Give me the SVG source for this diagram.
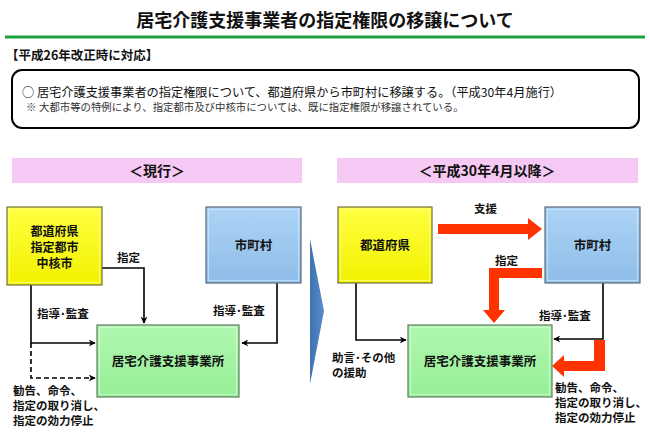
<svg xmlns="http://www.w3.org/2000/svg" width="650" height="434" viewBox="0 0 650 434">
<defs>
<style>
text{font-family:"Noto Sans CJK JP","Noto Sans",sans-serif;fill:#111}
.t{font-size:18px;font-weight:bold}
.b{font-weight:bold}
.lbl{font-size:11.5px;font-weight:bold}
.box{font-size:12.5px;font-weight:bold}
.box3{font-size:12px;font-weight:bold}
.hdr{font-size:14px;font-weight:bold}
.ln{fill:none;stroke:#000;stroke-width:1.6}
.red{fill:#FF3300;stroke:none}
.pink{fill:#F6C8F4}
</style>
<linearGradient id="gy" x1="0" y1="0" x2="0" y2="1"><stop offset="0" stop-color="#FFFF40"/><stop offset="1" stop-color="#F2F200"/></linearGradient>
<linearGradient id="gb" x1="0" y1="0" x2="0" y2="1"><stop offset="0" stop-color="#ACD4F6"/><stop offset="1" stop-color="#8FBDE8"/></linearGradient>
<linearGradient id="gg" x1="0" y1="0" x2="0" y2="1"><stop offset="0" stop-color="#B0F8B0"/><stop offset="1" stop-color="#96EE96"/></linearGradient>
<linearGradient id="gc" x1="0" y1="0" x2="1" y2="0"><stop offset="0" stop-color="#3F72B0"/><stop offset="1" stop-color="#5A8CCB"/></linearGradient>
<marker id="ah" viewBox="0 0 10 10" refX="9" refY="5" markerWidth="7" markerHeight="7" orient="auto" markerUnits="userSpaceOnUse"><path d="M0,0 L10,5 L0,10 L3,5 z" fill="#000"/></marker>
</defs>

<g id="header">
<text class="t" x="325" y="27" text-anchor="middle">居宅介護支援事業者の指定権限の移譲について</text>
<rect x="5" y="35.5" width="640" height="3" fill="#1FA040"/>
<text class="b" x="6" y="60" font-size="12.5">【平成26年改正時に対応】</text>
<rect x="12" y="70" width="627" height="58" rx="10" ry="10" fill="#fff" stroke="#000" stroke-width="2"/>
<text x="22" y="97" font-size="12.2">○  居宅介護支援事業者の指定権限について、都道府県から市町村に移譲する。（平成30年4月施行）</text>
<text x="26" y="111" font-size="10.4" style="font-family:'Liberation Serif','Noto Sans CJK JP',serif;fill:#333">※  大都市等の特例により、指定都市及び中核市については、既に指定権限が移譲されている。</text>
</g>

<g id="section-current">
<rect class="pink" x="12" y="158" width="290" height="25"/>
<text class="hdr" x="157" y="176" text-anchor="middle">＜現行＞</text>
</g>
<g id="section-after">
<rect class="pink" x="337" y="158" width="301" height="25"/>
<text class="hdr" x="487" y="176" text-anchor="middle">＜平成30年4月以降＞</text>
</g>

<g id="transition-arrow">
<polygon points="310,239 324,311 310,384" fill="url(#gc)"/>
</g>

<g id="connectors">
<!-- left diagram -->
<path class="ln" d="M102,268 H144 V323" marker-end="url(#ah)"/>
<path class="ln" d="M31,285 V343 H95" marker-end="url(#ah)"/>
<path class="ln" d="M31,343 V378 H95" stroke-dasharray="5,3" marker-end="url(#ah)"/>
<path class="ln" d="M277,283 V343 H242" marker-end="url(#ah)"/>
<!-- right diagram -->
<path class="ln" d="M356,283 V340 H406" marker-end="url(#ah)"/>
<path class="ln" d="M603,283 V339 H554" marker-end="url(#ah)"/>
<polygon class="red" points="438,224 528,224 528,218 542,229 528,240 528,234 438,234"/>
<polygon class="red" points="542,268 489,268 489,310 483,310 494,323 505,310 499,310 499,278 542,278"/>
<polygon class="red" points="594,340 605,340 605,371 564,371 564,377 552,366 564,355 564,361 594,361"/>
<!-- labels -->
<text class="lbl" x="117" y="262">指定</text>
<text class="lbl" x="37" y="318">指導･監査</text>
<text class="lbl" x="213" y="315">指導･監査</text>
<text class="lbl" x="13" y="395">勧告、命令、<tspan x="13" dy="15">指定の取り消し、</tspan><tspan x="13" dy="15">指定の効力停止</tspan></text>
<text class="lbl" x="474" y="213">支援</text>
<text class="lbl" x="495" y="265">指定</text>
<text class="lbl" x="539" y="320">指導･監査</text>
<text class="lbl" x="332" y="362">助言･その他<tspan x="332" dy="15">の援助</tspan></text>
<text class="lbl" x="555" y="392">勧告、命令、<tspan x="555" dy="15">指定の取り消し、</tspan><tspan x="555" dy="15">指定の効力停止</tspan></text>
</g>

<g id="node-pref-current">
<rect x="7" y="207" width="95" height="78" fill="url(#gy)" stroke="#6f6f40" stroke-width="1.2"/>
<rect x="9.5" y="209.5" width="90" height="73" fill="none" stroke="#ffff99" stroke-width="1" opacity="0.7"/>
<text class="box3" x="54.5" y="236" text-anchor="middle">都道府県<tspan x="54.5" dy="16">指定都市</tspan><tspan x="54.5" dy="16">中核市</tspan></text>
</g>
<g id="node-muni-current">
<rect x="206" y="207" width="95" height="76" fill="url(#gb)" stroke="#5a6a7a" stroke-width="1.2"/>
<rect x="208.5" y="209.5" width="90" height="71" fill="none" stroke="#d0e8ff" stroke-width="1" opacity="0.7"/>
<text class="box" x="253.5" y="250" text-anchor="middle">市町村</text>
</g>
<g id="node-office-current">
<rect x="97" y="325" width="142" height="72" fill="url(#gg)" stroke="#5f7a5f" stroke-width="1.2"/>
<rect x="99.5" y="327.5" width="137" height="67" fill="none" stroke="#d8ffd8" stroke-width="1" opacity="0.7"/>
<text class="box" x="168" y="366" text-anchor="middle">居宅介護支援事業所</text>
</g>

<g id="node-pref-after">
<rect x="338" y="207" width="94" height="76" fill="url(#gy)" stroke="#6f6f40" stroke-width="1.2"/>
<rect x="340.5" y="209.5" width="89" height="71" fill="none" stroke="#ffff99" stroke-width="1" opacity="0.7"/>
<text class="box" x="385" y="250" text-anchor="middle">都道府県</text>
</g>
<g id="node-muni-after">
<rect x="545" y="207" width="95" height="76" fill="url(#gb)" stroke="#5a6a7a" stroke-width="1.2"/>
<rect x="547.5" y="209.5" width="90" height="71" fill="none" stroke="#d0e8ff" stroke-width="1" opacity="0.7"/>
<text class="box" x="592.5" y="250" text-anchor="middle">市町村</text>
</g>
<g id="node-office-after">
<rect x="408" y="325" width="144" height="72" fill="url(#gg)" stroke="#5f7a5f" stroke-width="1.2"/>
<rect x="410.5" y="327.5" width="139" height="67" fill="none" stroke="#d8ffd8" stroke-width="1" opacity="0.7"/>
<text class="box" x="480" y="366" text-anchor="middle">居宅介護支援事業所</text>
</g>
</svg>
